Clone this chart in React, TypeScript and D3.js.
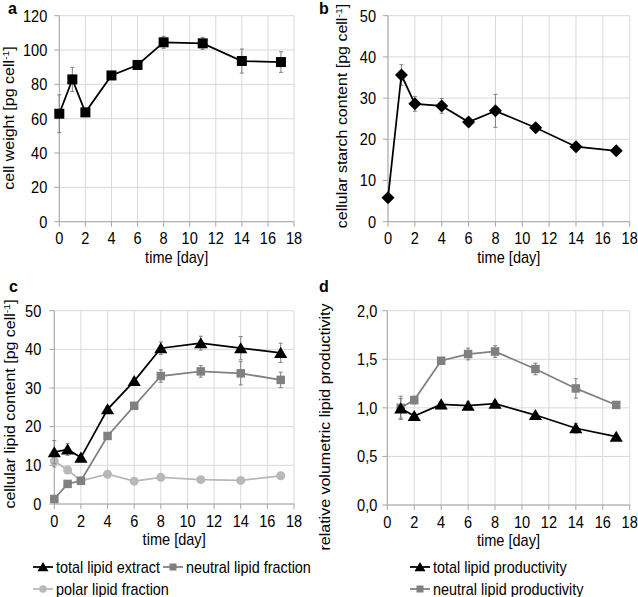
import React from 'react';
import * as d3 from 'd3';

const days = [0, 1, 2, 4, 6, 8, 11, 14, 17];
const cellWeight = [62.9, 82.9, 63.7, 85.2, 91.3, 104.5, 103.9, 93.6, 93.0];
const cellWeightErr = [11, 7, 1.5, 1.5, 2, 3.5, 3.5, 7, 6];
const starch = [5.8, 35.6, 28.6, 28.1, 24.2, 26.9, 22.8, 18.2, 17.2];
const starchErr = [0.4, 2.5, 1.8, 1.8, 1, 4, 1, 0.7, 0.5];
const totalLipid = [13.4, 14.1, 12.0, 24.5, 31.8, 40.3, 41.6, 40.3, 39.1];
const totalLipidErr = [3, 1.5, 0.8, 0.8, 0.8, 1.6, 1.8, 3, 2.5];
const neutralLipid = [1.3, 5.2, 6.0, 17.6, 25.4, 33.1, 34.3, 33.8, 32.1];
const neutralLipidErr = [0.5, 0.5, 0.5, 0.8, 0.8, 1.6, 1.5, 3, 2];
const polarLipid = [11.1, 8.8, 6.0, 7.7, 5.9, 6.9, 6.3, 6.1, 7.3];
const polarLipidErr = [1.5, 0.5, 0.5, 0.5, 0.5, 0.5, 0.5, 0.5, 0.5];
const prodDays = [1, 2, 4, 6, 8, 11, 14, 17];
const totalProd = [0.995, 0.916, 1.036, 1.022, 1.043, 0.926, 0.79, 0.703];
const totalProdErr = [0.1, 0.03, 0.03, 0.04, 0.03, 0.03, 0.05, 0.02];
const neutralProd = [1.0, 1.08, 1.485, 1.554, 1.58, 1.4, 1.2, 1.03];
const neutralProdErr = [0.12, 0.04, 0.02, 0.06, 0.06, 0.06, 0.1, 0.03];
const xTicks = [0, 2, 4, 6, 8, 10, 12, 14, 16, 18];
const yTicksA = [0, 20, 40, 60, 80, 100, 120];
const yTicksB = [0, 10, 20, 30, 40, 50];
const yTicksC = [0, 10, 20, 30, 40, 50];
const yTicksD = [0, 0.5, 1.0, 1.5, 2.0];

const FONT = 'Liberation Sans, Arial, sans-serif';
const F = 16;
const FR = 16;
const SX = 0.91;

type Marker = 'square' | 'diamond' | 'triangle' | 'circle';

function markerPath(m: Marker, s: number): string {
  if (m === 'square') return `M${-s / 2},${-s / 2}h${s}v${s}h${-s}Z`;
  if (m === 'diamond') return `M0,${-s / 2}L${s / 2},0L0,${s / 2}L${-s / 2},0Z`;
  if (m === 'triangle') return `M0,${-s * 0.5}L${s * 0.55},${s * 0.42}L${-s * 0.55},${s * 0.42}Z`;
  return d3.symbol(d3.symbolCircle, (Math.PI * s * s) / 4)() || '';
}

interface Series {
  x: number[];
  y: number[];
  err: number[];
  color: string;
  marker: Marker;
  size: number;
}

function HText(props: { x: number; y: number; anchor?: string; size?: number; weight?: string; sx?: number; children: React.ReactNode }) {
  return (
    <text
      transform={`translate(${props.x},${props.y}) scale(${props.sx ?? SX},1)`}
      textAnchor={props.anchor || 'start'}
      fontSize={props.size || F}
      fontWeight={props.weight || 'normal'}
      fontFamily={FONT}
      fill="#000"
    >
      {props.children}
    </text>
  );
}

function VText(props: { x: number; y: number; children: React.ReactNode }) {
  return (
    <text
      transform={`translate(${props.x},${props.y}) rotate(-90) scale(1,${SX})`}
      textAnchor="middle"
      fontSize={FR}
      fontFamily={FONT}
      fill="#000"
    >
      {props.children}
    </text>
  );
}

function Panel(props: {
  xr: [number, number];
  yr: [number, number];
  yDomain: [number, number];
  yTicks: number[];
  fmt: (v: number) => string;
  labelGap: number;
  series: Series[];
}) {
  const x = d3.scaleLinear().domain([0, 18]).range(props.xr);
  const y = d3.scaleLinear().domain(props.yDomain).range(props.yr);
  const [x0, x1] = props.xr;
  const [y0, y1] = props.yr;
  const axisColor = '#a6a6a6';
  const gridColor = '#d9d9d9';
  return (
    <g>
      {props.yTicks.map((t) => (
        <line key={'gy' + t} x1={x0} x2={x1} y1={y(t)} y2={y(t)} stroke={gridColor} strokeWidth={1} />
      ))}
      {xTicks.map((t) => (
        <line key={'gx' + t} x1={x(t)} x2={x(t)} y1={y0} y2={y1} stroke={gridColor} strokeWidth={1} />
      ))}
      <line x1={x0} x2={x1} y1={y0} y2={y0} stroke={axisColor} strokeWidth={1} />
      <line x1={x0} x2={x0} y1={y0} y2={y1} stroke={axisColor} strokeWidth={1} />
      {props.yTicks.map((t) => (
        <line key={'ty' + t} x1={x0 - 5} x2={x0} y1={y(t)} y2={y(t)} stroke={axisColor} strokeWidth={1} />
      ))}
      {xTicks.map((t) => (
        <line key={'tx' + t} x1={x(t)} x2={x(t)} y1={y0} y2={y0 + 5} stroke={axisColor} strokeWidth={1} />
      ))}
      {props.yTicks.map((t) => (
        <HText key={'ly' + t} x={x0 - props.labelGap} y={y(t) + 5.8} anchor="end">
          {props.fmt(t)}
        </HText>
      ))}
      {xTicks.map((t) => (
        <HText key={'lx' + t} x={x(t)} y={y0 + 22.5} anchor="middle">
          {String(t)}
        </HText>
      ))}
      <HText x={(x0 + x1) / 2} y={y0 + 41} anchor="middle">
        time [day]
      </HText>
      {props.series.map((s, si) => {
        const pts = s.x.map((d, i) => [x(d), y(s.y[i])] as [number, number]);
        const line = d3.line()(pts) || '';
        return (
          <g key={si}>
            {s.x.map((d, i) => (
              <g key={'e' + i} stroke="#808080" strokeWidth={1}>
                <line x1={x(d)} x2={x(d)} y1={y(s.y[i] - s.err[i])} y2={y(s.y[i] + s.err[i])} />
                <line x1={x(d) - 2} x2={x(d) + 2} y1={y(s.y[i] - s.err[i])} y2={y(s.y[i] - s.err[i])} />
                <line x1={x(d) - 2} x2={x(d) + 2} y1={y(s.y[i] + s.err[i])} y2={y(s.y[i] + s.err[i])} />
              </g>
            ))}
            <path d={line} fill="none" stroke={s.color} strokeWidth={1.75} />
            {pts.map((p, i) => (
              <path key={'m' + i} d={markerPath(s.marker, s.size)} transform={`translate(${p[0]},${p[1]})`} fill={s.color} />
            ))}
          </g>
        );
      })}
    </g>
  );
}

function LegendItem(props: { x: number; y: number; color: string; marker: Marker; size: number; label: string }) {
  return (
    <g>
      <line x1={props.x} x2={props.x + 20} y1={props.y} y2={props.y} stroke={props.color} strokeWidth={1.75} />
      <path d={markerPath(props.marker, props.size)} transform={`translate(${props.x + 10},${props.y})`} fill={props.color} />
      <HText x={props.x + 23} y={props.y + 5.5} sx={0.9}>
        {props.label}
      </HText>
    </g>
  );
}

function Sup(props: { pre: string }) {
  return (
    <>
      {props.pre}
      <tspan dy={-6} fontSize={10.5}>
        -1
      </tspan>
      <tspan dy={6}>]</tspan>
    </>
  );
}

export default function App() {
  const int = (v: number) => String(v);
  const comma = (v: number) => v.toFixed(1).replace('.', ',');
  const black = '#000000';
  const grey = '#808080';
  const light = '#b8b8b8';
  return (
    <svg width={638} height={597} style={{ position: 'absolute', left: 0, top: 0, background: '#fff' }}>
      <rect width={638} height={597} fill="#fff" />
      {/* panel a */}
      <HText x={8} y={14} size={16} weight="bold" sx={1}>a</HText>
      <VText x={14} y={118}>
        <Sup pre="cell weight  [pg cell" />
      </VText>
      <Panel
        xr={[59.3, 294]}
        yr={[221.7, 15.7]}
        yDomain={[0, 120]}
        yTicks={yTicksA}
        fmt={int}
        labelGap={12}
        series={[{ x: days, y: cellWeight, err: cellWeightErr, color: black, marker: 'square', size: 10 }]}
      />
      {/* panel b */}
      <HText x={319} y={14} size={16} weight="bold" sx={1}>b</HText>
      <VText x={347} y={116}>
        <Sup pre="cellular  starch content [pg cell" />
      </VText>
      <Panel
        xr={[388, 629.7]}
        yr={[221.7, 15.7]}
        yDomain={[0, 50]}
        yTicks={yTicksB}
        fmt={int}
        labelGap={12}
        series={[{ x: days, y: starch, err: starchErr, color: black, marker: 'diamond', size: 13 }]}
      />
      {/* panel c */}
      <HText x={9} y={292} size={16} weight="bold" sx={1}>c</HText>
      <VText x={15} y={404}>
        <Sup pre="cellular  lipid content  [pg cell" />
      </VText>
      <Panel
        xr={[54.3, 294]}
        yr={[504, 310.7]}
        yDomain={[0, 50]}
        yTicks={yTicksC}
        fmt={int}
        labelGap={13}
        series={[
          { x: days, y: polarLipid, err: polarLipidErr, color: light, marker: 'circle', size: 9 },
          { x: days, y: neutralLipid, err: neutralLipidErr, color: grey, marker: 'square', size: 8.5 },
          { x: days, y: totalLipid, err: totalLipidErr, color: black, marker: 'triangle', size: 12 },
        ]}
      />
      {/* panel d */}
      <HText x={319} y={292} size={16} weight="bold" sx={1}>d</HText>
      <VText x={330} y={427}>
        relative  volumetric  lipid  productivity
      </VText>
      <Panel
        xr={[387.3, 629.7]}
        yr={[505, 310.7]}
        yDomain={[0, 2]}
        yTicks={yTicksD}
        fmt={comma}
        labelGap={10}
        series={[
          { x: prodDays, y: neutralProd, err: neutralProdErr, color: grey, marker: 'square', size: 8.5 },
          { x: prodDays, y: totalProd, err: totalProdErr, color: black, marker: 'triangle', size: 12 },
        ]}
      />
      {/* legends */}
      <LegendItem x={33} y={567} color={black} marker="triangle" size={10} label="total lipid extract" />
      <LegendItem x={163} y={567} color={grey} marker="square" size={7} label="neutral lipid fraction" />
      <LegendItem x={33} y={589} color={light} marker="circle" size={7.5} label="polar lipid fraction" />
      <LegendItem x={410} y={567} color={black} marker="triangle" size={10} label="total lipid productivity" />
      <LegendItem x={410} y={589} color={grey} marker="square" size={7} label="neutral lipid productivity" />
    </svg>
  );
}
